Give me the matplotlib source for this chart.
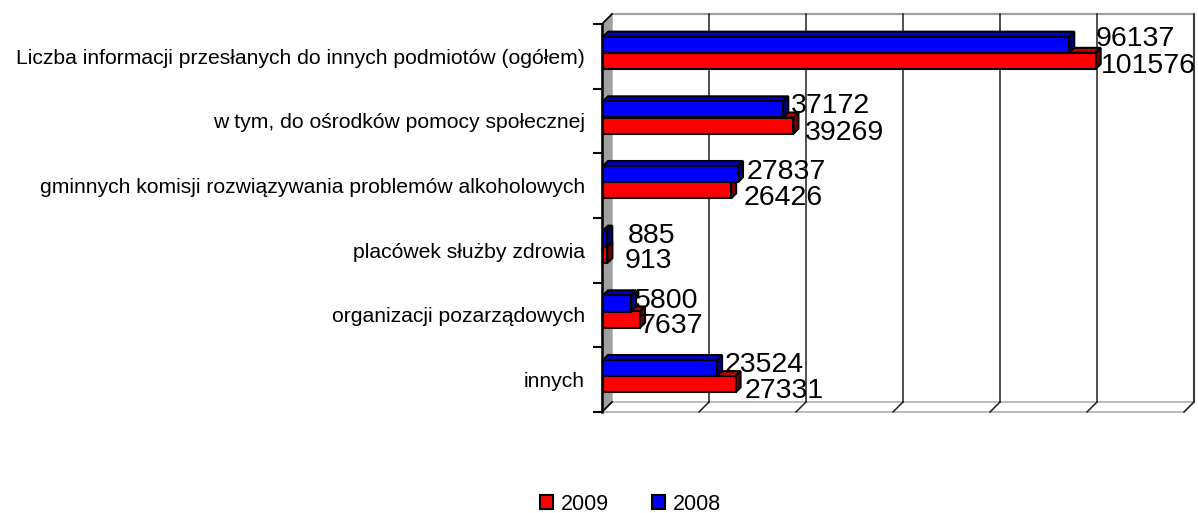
import matplotlib
matplotlib.use("Agg")
import matplotlib.pyplot as plt
from matplotlib.patches import Patch, Polygon
from matplotlib.transforms import Affine2D
import numpy as np

# === Data ===
categories = ["Liczba informacji przesłanych do innych podmiotów (ogółem)",
              "w tym, do ośrodków pomocy społecznej",
              "gminnych komisji rozwiązywania problemów alkoholowych",
              "placówek służby zdrowia",
              "organizacji pozarządowych",
              "innych"]
values_2008 = [96137, 37172, 27837, 885, 5800, 23524]
values_2009 = [101576, 39269, 26426, 913, 7637, 27331]

# label nudges in pixels, from the bar end / bar centre
dx_2008 = [26, 8, 9, 20, 4, 8]
dy_2008 = [9, 6, 5, 6, 5, 6]
dx_2009 = [5, 11, 12, 17, -1, 9]
dy_2009 = [-2, -4, -5, -3, -3, -4]

RED, RED_DARK, RED_TOP = "#FF0000", "#800000", "#C00000"
BLUE, BLUE_DARK, BLUE_TOP = "#0000FF", "#000080", "#0000C0"
GREY = "#A0A0A0"

W, H = 1198, 513
plt.rcParams["font.family"] = ["Liberation Sans", "DejaVu Sans"]

fig = plt.figure(figsize=(W / 100, H / 100), dpi=100)
# front plane of the fake 3D box
ax = fig.add_axes([602 / W, 1 - 412 / H, 582 / W, 388 / H])
ax.set_xlim(0, 120000)
ax.set_ylim(6, 0)

ux = 120000 / 582  # value units per pixel
uy = 6 / 388
DEPTH = 10
grid_vals = np.arange(0, 140000, 20000)

for s in ax.spines.values():
    s.set_visible(False)
ax.patch.set_visible(False)

# walls
ax.add_patch(Polygon([(0, 6), (DEPTH * ux, 6 - DEPTH * uy), (DEPTH * ux, -DEPTH * uy), (0, 0)],
                     fc=GREY, ec=GREY, lw=1, clip_on=False, zorder=1))
ax.plot([DEPTH * ux, 120000 + DEPTH * ux, 120000 + DEPTH * ux],
        [-DEPTH * uy, -DEPTH * uy, 6 - DEPTH * uy], color=GREY, lw=1.6, clip_on=False, zorder=1)
ax.plot([DEPTH * ux, 120000 + DEPTH * ux, 120000, 0],
        [6 - DEPTH * uy, 6 - DEPTH * uy, 6, 6], color=GREY, lw=1, clip_on=False, zorder=1)

# gridlines on back wall and their short floor ticks
for g in grid_vals[1:]:
    ax.plot([g + DEPTH * ux] * 2, [-DEPTH * uy, 6 - DEPTH * uy], color="#202020", lw=1.1,
            clip_on=False, zorder=2)
    ax.plot([g, g + DEPTH * ux], [6, 6 - DEPTH * uy], color="#202020", lw=1.1,
            clip_on=False, zorder=2)

ax.plot([0, 0], [0, 6], color="black", lw=1.8, clip_on=False, zorder=3)
ax.plot([0, DEPTH * ux], [0, -DEPTH * uy], color="black", lw=1.2, clip_on=False, zorder=3)
ax.plot([0, DEPTH * ux], [6, 6 - DEPTH * uy], color="black", lw=1.2, clip_on=False, zorder=3)

# bars
pos = np.arange(len(categories)) + 0.5
BAR_H = 0.25
SHIFT_X, SHIFT_Y = 1.0, 3.5
off_x, off_y = SHIFT_X * ux, SHIFT_Y * uy
BAR_DX, BAR_DY = 5, 5
EDGE = 1.5


def draw_bars(vals, ys, face, side, top, z):
    for v, y in zip(vals, ys):
        x0, x1 = off_x, v + off_x
        y0, y1 = y - off_y - BAR_H / 2, y - off_y + BAR_H / 2
        ddx, ddy = BAR_DX * ux, BAR_DY * uy
        ax.add_patch(Polygon([(x0, y0), (x0 + ddx, y0 - ddy), (x1 + ddx, y0 - ddy), (x1, y0)],
                             fc=top, ec="black", lw=EDGE, clip_on=False, zorder=z))
        ax.add_patch(Polygon([(x1, y0), (x1 + ddx, y0 - ddy), (x1 + ddx, y1 - ddy), (x1, y1)],
                             fc=side, ec="black", lw=EDGE, clip_on=False, zorder=z))
    ax.barh(ys - off_y, vals, height=BAR_H, left=off_x, color=face, edgecolor="black",
            lw=EDGE, zorder=z + 0.1, clip_on=False)


draw_bars(values_2009, pos + BAR_H / 2, RED, RED_DARK, RED_TOP, 4)
draw_bars(values_2008, pos - BAR_H / 2, BLUE, BLUE_DARK, BLUE_TOP, 5)

# value labels
for vals, ys, dxs, dys in [(values_2008, pos - BAR_H / 2, dx_2008, dy_2008),
                           (values_2009, pos + BAR_H / 2, dx_2009, dy_2009)]:
    for v, y, dx, dy in zip(vals, ys, dxs, dys):
        ax.text(v + off_x, y - off_y, str(v), fontsize=20.5, ha="left", va="center_baseline",
                color="black", zorder=8, clip_on=False,
                transform=ax.transData + Affine2D().translate(dx, dy))

# axes ticks
ax.set_xticks([])
ax.set_yticks(np.arange(7))
ax.set_yticklabels([])
ax.set_yticks(pos, minor=True)
ax.set_yticklabels(categories, minor=True, fontsize=15.2)
ax.tick_params(axis="y", which="major", length=6.5, width=1.5, color="black")
ax.tick_params(axis="y", which="minor", length=0, pad=12.5)

handles = [Patch(fc=RED, ec="black", lw=1.5, label="2009"),
           Patch(fc=BLUE, ec="black", lw=1.5, label="2008")]
fig.legend(handles=handles, loc="center", bbox_to_anchor=(630.5 / W, 1 - 504 / H), ncol=2,
           frameon=False, fontsize=15.5, handlelength=0.6, handleheight=0.6,
           handletextpad=0.35, columnspacing=2.0, borderpad=0)

fig.savefig("out.png", dpi=100)
